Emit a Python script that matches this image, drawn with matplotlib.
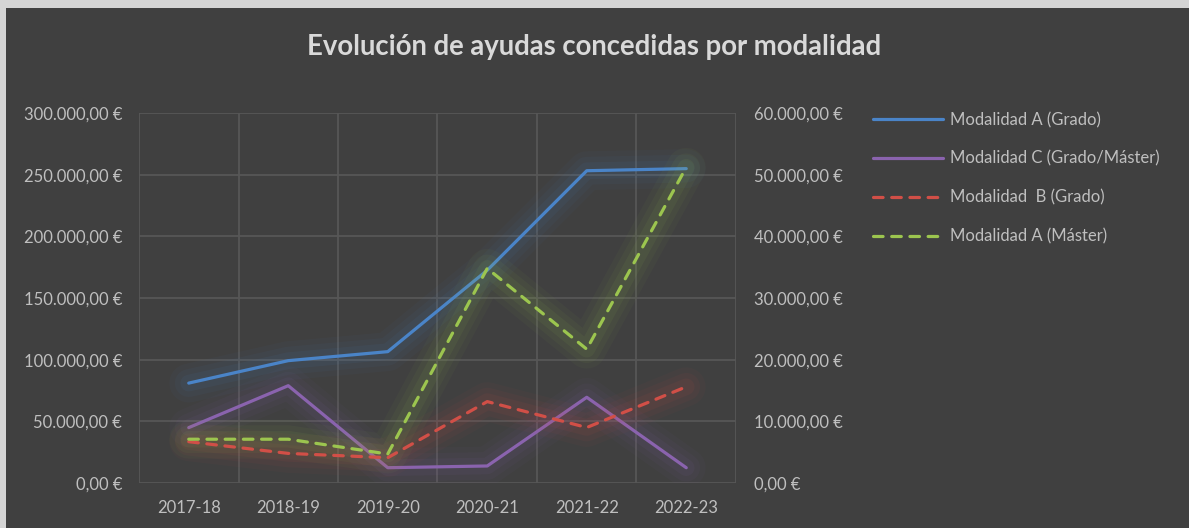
import matplotlib.pyplot as plt
from matplotlib.patches import Rectangle
from matplotlib.ticker import FuncFormatter, MultipleLocator
import numpy as np

plt.rcParams['font.family'] = ['Lato', 'DejaVu Sans']

# cursos y importes
cursos = ["2017-18", "2018-19", "2019-20", "2020-21", "2021-22", "2022-23"]
mod_a_grado = [81000, 99200, 106500, 172500, 253200, 254900]
mod_c_grado_master = [44900, 78900, 12400, 13800, 69500, 12400]
# eje secundario
mod_b_grado = [6700, 4800, 4100, 13200, 9000, 15600]
mod_a_master = [7100, 7100, 4700, 34800, 21700, 51200]

bg = '#404040'
txt = '#bfbfbf'
grid = '#575757'
c_blue = '#4a84c8'
c_purple = '#8a63ae'
c_red = '#d14f47'
c_green = '#9cc54f'


def euro(v, pos=None):
    s = f"{v:,.2f}".replace(",", "X").replace(".", ",").replace("X", ".")
    return s + " €"


fig = plt.figure(figsize=(11.89, 5.28), dpi=100)
fig.patch.set_facecolor('#d4d4d4')
fig.patches.append(Rectangle((6 / 1189, 0), 1, 1 - 8 / 528, transform=fig.transFigure,
                             facecolor=bg, edgecolor='none', zorder=-10))

ax = fig.add_axes([139 / 1189, 45 / 528, 597 / 1189, 370 / 528])
ax2 = ax.twinx()
ax.set_facecolor(bg)
ax.patch.set_alpha(0)

x = np.arange(len(cursos))


def glow(axis, y, color):
    for lw, a in [(28, 0.04), (20, 0.05), (12, 0.07)]:
        axis.plot(x, y, color=color, lw=lw, alpha=a, solid_capstyle='round',
                  solid_joinstyle='round', zorder=2)


glow(ax, mod_a_grado, c_blue)
glow(ax, mod_c_grado_master, c_purple)
glow(ax2, mod_b_grado, c_red)
glow(ax2, mod_a_master, c_green)

dash = (0, (3.0, 2.7))
l1, = ax.plot(x, mod_a_grado, color=c_blue, lw=2.3, solid_capstyle='round', zorder=3,
              label="Modalidad A (Grado)")
l2, = ax.plot(x, mod_c_grado_master, color=c_purple, lw=2.3, solid_capstyle='round', zorder=3,
              label="Modalidad C (Grado/Máster)")
l3, = ax2.plot(x, mod_b_grado, color=c_red, lw=2.3, ls=dash, dash_capstyle='round',
               zorder=3, label="Modalidad  B (Grado)")
l4, = ax2.plot(x, mod_a_master, color=c_green, lw=2.3, ls=dash, dash_capstyle='round',
               zorder=3, label="Modalidad A (Máster)")

ax.set_xlim(-0.5, 5.5)
ax.set_ylim(0, 300000)
ax2.set_ylim(0, 60000)
ax.yaxis.set_major_locator(MultipleLocator(50000))
ax2.yaxis.set_major_locator(MultipleLocator(10000))
ax.yaxis.set_major_formatter(FuncFormatter(euro))
ax2.yaxis.set_major_formatter(FuncFormatter(euro))
ax.set_xticks(x)
ax.set_xticklabels(cursos)
ax.set_xticks(np.arange(-0.5, 6, 1), minor=True)

ax.grid(True, axis='y', color=grid, lw=1.3, zorder=0)
ax.grid(True, axis='x', which='minor', color=grid, lw=1.3, zorder=0)
ax.set_axisbelow(True)

for a in (ax, ax2):
    for s in a.spines.values():
        s.set_visible(False)
    a.tick_params(length=0, colors=txt, labelsize=12, which='both')
ax.tick_params(axis='y', pad=12)
ax.tick_params(axis='x', pad=12)
ax2.tick_params(axis='y', pad=13)

fig.text(0.5, 1 - 47 / 528, "Evolución de ayudas concedidas por modalidad", ha='center', va='center',
         fontsize=19.8, fontweight='bold', color='#d9d9d9')

fig.legend(handles=[l1, l2, l3, l4], loc='upper left', bbox_to_anchor=(858 / 1189, 1 - 97 / 528),
           frameon=False, labelcolor=txt, fontsize=12, handlelength=4.2, handletextpad=0.42,
           labelspacing=1.36)

fig.savefig("out.png", dpi=100, facecolor=fig.get_facecolor())
